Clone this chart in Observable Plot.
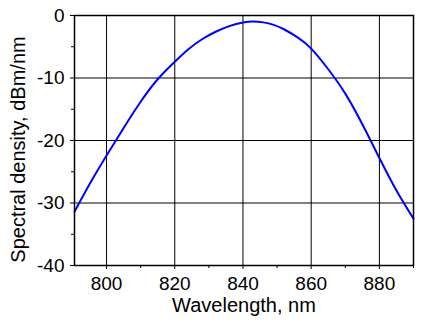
<!DOCTYPE html>
<html>
<head>
<meta charset="utf-8">
<script src="https://cdn.jsdelivr.net/npm/d3@7"></script>
<script src="https://cdn.jsdelivr.net/npm/@observablehq/plot@0.6"></script>
<style>
  html, body { margin: 0; padding: 0; background: #fff; }
  #chart svg { display: block; }
</style>
</head>
<body>
<div id="chart"></div>
<script>
// Emission spectrum: wavelength (nm) vs spectral density (dBm/nm)
const wavelength = [790.6, 795, 800, 805, 810, 815, 820, 824, 828, 832, 836, 840, 843, 846, 849, 852, 856, 860, 865, 870, 875, 880, 885, 890];
const density    = [-31.4, -27.0, -22.4, -18.0, -13.8, -10.2, -7.4, -5.4, -3.8, -2.6, -1.7, -1.12, -0.95, -1.1, -1.5, -2.2, -3.5, -5.3, -8.6, -12.5, -17.4, -22.8, -28.0, -32.5];

const xMajor = [800, 820, 840, 860, 880];
const xMinor = [810, 830, 850, 870, 890];
const yMajor = [0, -10, -20, -30, -40];
const yMinor = [-5, -15, -25, -35];
const xTitle = "Wavelength, nm";
const yTitle = "Spectral density, dBm/nm";

const spectrum = wavelength.map((w, i) => ({w, d: density[i]}));
const font = "'Liberation Sans', Arial, sans-serif";

const chart = Plot.plot({
  width: 421,
  height: 324,
  marginLeft: 74,
  marginRight: 8,
  marginTop: 15,
  marginBottom: 59,
  style: {fontFamily: font, fontSize: "19px", color: "#000", background: "#fff"},
  x: {domain: [790.6, 890]},
  y: {domain: [-40, 0]},
  marks: [
    Plot.gridX(xMajor, {stroke: "#000", strokeOpacity: 1, strokeWidth: 1}),
    Plot.gridY(yMajor.slice(1, 4), {stroke: "#000", strokeOpacity: 1, strokeWidth: 1}),
    Plot.axisX({ticks: xMajor, tickSize: 4, tickPadding: 7, label: null, fontSize: 19}),
    Plot.axisX({ticks: xMinor, tickSize: 3, tickFormat: () => "", label: null}),
    Plot.axisY({ticks: yMajor, tickSize: 4, tickPadding: 6, label: null, fontSize: 19, tickFormat: d => d < 0 ? "-" + (-d) : String(d)}),
    Plot.axisY({ticks: yMinor, tickSize: 3, tickFormat: () => "", label: null}),
    Plot.line(spectrum, {x: "w", y: "d", stroke: "#0000ff", strokeWidth: 2, curve: "natural"}),
    Plot.frame({stroke: "#000", strokeWidth: 1.5}),
    Plot.text([xTitle], {frameAnchor: "bottom", lineAnchor: "middle", textAnchor: "middle", dy: 40, fontSize: 20, fill: "#000"}),
    Plot.text([yTitle], {frameAnchor: "left", lineAnchor: "middle", textAnchor: "middle", dx: -56, dy: 9, rotate: -90, fontSize: 20, fill: "#000"})
  ]
});
document.getElementById("chart").appendChild(chart);
</script>
</body>
</html>
